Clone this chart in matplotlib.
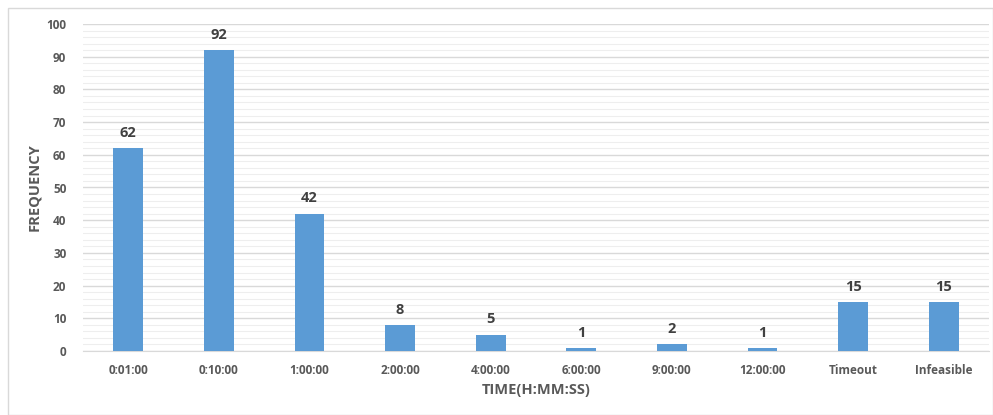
import matplotlib
matplotlib.use("Agg")
import matplotlib.pyplot as plt
from matplotlib.patches import Rectangle
from matplotlib.ticker import MultipleLocator

categories = ["0:01:00", "0:10:00", "1:00:00", "2:00:00", "4:00:00", "6:00:00",
              "9:00:00", "12:00:00", "Timeout", "Infeasible"]
frequency = [62, 92, 42, 8, 5, 1, 2, 1, 15, 15]

plt.rcParams['font.family'] = ['Open Sans', 'DejaVu Sans']

fig = plt.figure(figsize=(9.93, 4.15), dpi=100)
fig.patches.append(Rectangle((8/993, 0.0), 1 - 8/993, 1 - 8/415, transform=fig.transFigure,
                             fill=False, edgecolor='#d9d9d9', linewidth=1.0))
ax = fig.add_axes([83/993, 1 - 351/415, 906/993, (351 - 24)/415])

x = range(len(categories))
bars = ax.bar(x, frequency, width=0.33, color='#5b9bd5', zorder=3)
for xi, v in zip(x, frequency):
    ax.text(xi, v + 2.5, str(v), ha='center', va='bottom', fontsize=10.5,
            fontweight='bold', color='#404040')

ax.set_xlim(-0.5, len(categories) - 0.5)
ax.set_ylim(0, 100)
ax.yaxis.set_major_locator(MultipleLocator(10))
ax.yaxis.set_minor_locator(MultipleLocator(2))
ax.grid(axis='y', which='major', color='#d9d9d9', linewidth=1.0, zorder=0)
ax.grid(axis='y', which='minor', color='#eeeeee', linewidth=0.8, zorder=0)
ax.set_xticks(list(x))
ax.set_xticklabels(categories)
for s in ['top', 'right', 'left']:
    ax.spines[s].set_visible(False)
ax.spines['bottom'].set_color('#d9d9d9')
ax.tick_params(axis='both', which='both', length=0, labelsize=8.5, labelcolor='#595959')
ax.tick_params(axis='x', pad=9)
ax.tick_params(axis='y', pad=12)
for lbl in ax.get_xticklabels() + ax.get_yticklabels():
    lbl.set_fontweight('bold')
ax.set_xlabel('TIME(H:MM:SS)', fontsize=10.5, fontweight='bold', color='#595959')
ax.set_ylabel('FREQUENCY', fontsize=10.5, fontweight='bold', color='#595959')
ax.xaxis.set_label_coords(0.5, (351 - 383) / 327)
ax.yaxis.set_label_coords((41 - 83) / 906, 0.5)

fig.savefig('out.png', dpi=100)
